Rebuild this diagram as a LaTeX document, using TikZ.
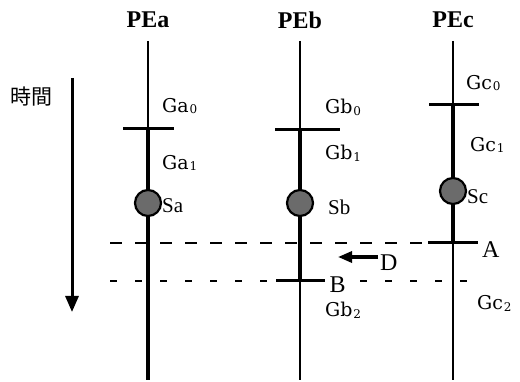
\documentclass[tikz,border=0pt]{standalone}
\usepackage{fontspec}
\setmainfont{Liberation Serif}
\newfontfamily\gfont{DejaVu Serif}
\newfontfamily\cjk{Noto Sans CJK JP}
\usetikzlibrary{arrows.meta}
\newcommand{\gsub}[2]{G#1\kern0.8pt\raisebox{-0.1em}{\fontsize{12}{12}\selectfont #2}}
\begin{document}
\begin{tikzpicture}[x=1pt,y=-1pt,
  thinline/.style={line width=1.6pt},
  thickline/.style={line width=4.2pt},
  barline/.style={line width=3pt},
  dashone/.style={line width=1.3pt, dash pattern=on 12pt off 13pt},
  dashtwo/.style={line width=1.3pt, dash pattern=on 7pt off 18pt},
  glbl/.style={font=\gfont\fontsize{19}{20}\selectfont, inner sep=0pt, anchor=west},
  slbl/.style={font=\fontsize{21}{22}\selectfont, inner sep=0pt, anchor=west},
  ptlbl/.style={font=\fontsize{24}{25}\selectfont, inner sep=0pt, anchor=west},
  pelbl/.style={font=\bfseries\fontsize{24}{25}\selectfont, inner sep=0pt},
  syncpt/.style={circle, draw, line width=2.2pt, fill=black!58, minimum size=26pt, inner sep=0pt},
]
\useasboundingbox (0,0) rectangle (520,382);

% process headers
\node[pelbl] (PEa) at (148,20) {PEa};
\node[pelbl] (PEb) at (300,20) {PEb};
\node[pelbl] (PEc) at (453,20) {PEc};

% time axis
\node[font=\cjk\fontsize{21}{21}\selectfont, inner sep=0pt] (time) at (31,97) {時間};
\coordinate (tTop) at (72,78);
\coordinate (tBot) at (72,312);
\draw[line width=3pt, -{Triangle[length=16pt,width=13pt]}] (tTop) -- (tBot);

% coordinates of process a
\coordinate (aTop) at (148,41);
\coordinate (aBar) at (148,129);
\coordinate (aBot) at (148,380);
\coordinate (aBarL) at (123,129);
\coordinate (aBarR) at (174,129);
% process b
\coordinate (bTop) at (300,41);
\coordinate (bBar) at (300,130);
\coordinate (bB) at (300,281);
\coordinate (bBot) at (300,380);
\coordinate (bBarL) at (275,130);
\coordinate (bBarR) at (340,130);
\coordinate (bBL) at (276,281);
\coordinate (bBR) at (325,281);
% process c
\coordinate (cTop) at (453,41);
\coordinate (cBar) at (453,105);
\coordinate (cA) at (453,243);
\coordinate (cBot) at (453,380);
\coordinate (cBarL) at (429,105);
\coordinate (cBarR) at (479,105);
\coordinate (cAL) at (428,243);
\coordinate (cAR) at (478,243);

% dashed cut lines
\coordinate (d1L) at (110,243);
\coordinate (d2L) at (110,281);
\coordinate (d2R) at (472,281);
\draw[dashone] (d1L) -- (cAL);
\draw[dashtwo] (d2L) -- (d2R);

% process lines
\draw[thinline] (aTop) -- (aBar);
\draw[thickline] (aBar) -- (aBot);
\draw[barline] (aBarL) -- (aBarR);

\draw[thinline] (bTop) -- (bBar);
\draw[thickline] (bBar) -- (bB);
\draw[thinline] (bB) -- (bBot);
\draw[barline] (bBarL) -- (bBarR);
\draw[barline] (bBL) -- (bBR);

\draw[thinline] (cTop) -- (cBar);
\draw[thickline] (cBar) -- (cA);
\draw[thinline] (cA) -- (cBot);
\draw[barline] (cBarL) -- (cBarR);
\draw[barline] (cAL) -- (cAR);

% sync points
\node[syncpt] (Sa) at (148,203) {};
\node[syncpt] (Sb) at (300,203) {};
\node[syncpt] (Sc) at (453,191) {};
\node[slbl] (Salbl) at (162,206) {Sa};
\node[slbl] (Sblbl) at (328,207) {Sb};
\node[slbl] (Sclbl) at (467,197) {Sc};

% group labels
\node[glbl] (Ga0) at (162,106) {\gsub{a}{0}};
\node[glbl] (Ga1) at (162,163) {\gsub{a}{1}};
\node[glbl] (Gb0) at (325,107) {\gsub{b}{0}};
\node[glbl] (Gb1) at (325,153) {\gsub{b}{1}};
\node[glbl] (Gb2) at (325,310) {\gsub{b}{2}};
\node[glbl] (Gc0) at (466,83) {\gsub{c}{0}};
\node[glbl] (Gc1) at (470,145) {\gsub{c}{1}};
\node[glbl] (Gc2) at (477,303) {\gsub{c}{2}};

% points A, B and direction D
\node[ptlbl] (A) at (482,250) {A};
\node[ptlbl, fill=white, inner sep=1.5pt] (B) at (328,285) {B};
\node[ptlbl] (D) at (380,263) {D};
\coordinate (dS) at (378,257);
\coordinate (dE) at (338,257);
\draw[line width=3.2pt, -{Triangle[length=14pt,width=11pt]}] (dS) -- (dE);
\end{tikzpicture}
\end{document}
